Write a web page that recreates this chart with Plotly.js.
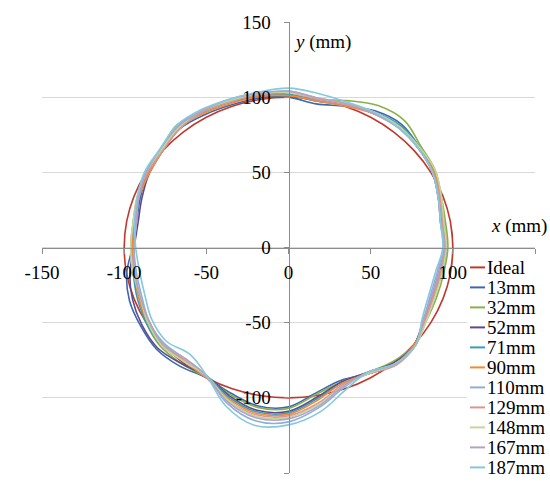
<!DOCTYPE html>
<html>
<head>
<meta charset="utf-8">
<script src="https://cdn.plot.ly/plotly-3.0.1.min.js"></script>
<style>body{margin:0;background:#fff}#chart{width:550px;height:482px}</style>
</head>
<body>
<div id="chart"></div>
<script>
// Polar angle (degrees) at which each radius (mm) was read
const angles = [0,10,20,30,40,50,60,70,80,90,100,110,120,130,140,150,160,170,180,190,200,210,220,230,240,250,260,270,280,290,300,310,320,330,340,350];

const rIdeal = [100,100,100,100,100,100,100,100,100,100,100,100,100,100,100,100,100,100,100,100,100,100,100,100,100,100,100,100,100,100,100,100,100,100,100,100];
const r13  = [96,95,97,102,104,107,105,100,97,100,101,101,102,103,100,99,96,94,95,100,103,104,105,103,100,103,107,106,98,94,97,101,100,96,94,94];
const r32  = [97,97,99,103,105,110,109,104,100,101,102,103,104,106,101,98,97,96,95,96,97,100,102,101,100,104,108,107,99,95,96,99,100,97,96,96];
const r52  = [95,94,97,101,103,105,104,101,99,101,102,103,104,104,100,98,95,93,94,98,101,103,104,101,99,105,110,109,101,95,96,100,100,95,93,93];
const r71  = [96,96,98,102,104,106,104,101,99,102,103,103,104,104,101,99,97,95,96,96,98,100,101,99,99,106,111,110,102,96,97,101,101,96,94,95];
const r90  = [96,96,98,102,103,105,103,100,99,101,102,102,103,104,100,98,97,95,95,95,97,99,100,99,100,107,112,111,103,96,97,101,100,96,94,94];
const r110 = [94,94,97,101,103,104,104,102,101,104,104,104,105,105,101,100,97,94,94,94,95,98,99,97,99,110,117,116,108,99,96,101,101,95,92,92];
const r129 = [95,95,98,101,103,104,103,101,100,103,103,103,104,103,100,99,98,96,96,95,96,98,100,98,100,108,113,112,105,97,97,102,101,96,94,94];
const r148 = [96,96,99,103,104,105,104,102,101,103,104,104,105,104,101,100,98,96,96,96,96,99,101,99,99,108,114,113,106,98,97,101,101,97,95,95];
const r167 = [95,94,97,101,103,104,103,102,101,104,104,105,105,105,102,100,97,94,94,95,96,98,100,97,99,109,115,114,107,98,96,101,101,95,93,93];
const r187 = [94,94,97,101,103,104,104,103,104,106,105,105,106,106,102,101,98,95,93,92,93,96,97,93,99,112,120,118,111,101,96,101,101,94,91,91];

const seriesNames = ['Ideal','13mm','32mm','52mm','71mm','90mm','110mm','129mm','148mm','167mm','187mm'];
const seriesRadii = [rIdeal, r13, r32, r52, r71, r90, r110, r129, r148, r167, r187];
const seriesColors = ['#C0392F','#3B68B0','#8AB04A','#5E4A8E','#3A9DB8','#F28A36','#8FAEDB','#D99694','#C3D69B','#B3A2C7','#86C8DC'];

const tickVals = [-150,-100,-50,0,50,100,150];
const xTickText = ['-150','-100','-50','0','50','100',''];   // 150 is hidden behind the legend
const yTickText = ['-150','-100','-50','0','50','100','150'];

// Each closed loop is traversed from the last reading round past the first one,
// so the smoothed line has no seam at the closing point.
const traces = seriesNames.map((name, i) => {
  const r = seriesRadii[i];
  const n = angles.length;
  const xs = [], ys = [];
  for (let k = -1; k <= n + 1; k++) {
    const j = ((k % n) + n) % n;
    const a = angles[j] * Math.PI / 180;
    xs.push(r[j] * Math.cos(a));
    ys.push(r[j] * Math.sin(a));
  }
  return {
    type: 'scatter', mode: 'lines', name: name, x: xs, y: ys,
    line: {color: seriesColors[i], width: 1.6, shape: 'spline', smoothing: 1, simplify: false},
    hoverinfo: 'skip', showlegend: false
  };
});

// Layout geometry (px) for the hand-placed legend
const W = 550, H = 482, M = {l: 42, r: 15, t: 22, b: 9};
const pw = W - M.l - M.r, ph = H - M.t - M.b;
const px2x = px => (px - M.l) / pw;
const py2y = py => (H - M.b - py) / ph;

const shapes = [
  {type: 'rect', xref: 'paper', yref: 'paper', layer: 'above',
   x0: px2x(467), x1: px2x(552), y0: py2y(484), y1: py2y(256),
   fillcolor: '#ffffff', line: {width: 0}}
];
const labelFont = {family: 'Liberation Serif', size: 19, color: '#000'};
const annotations = [
  {xref: 'paper', yref: 'paper', x: px2x(292), y: py2y(42), xanchor: 'left', yanchor: 'middle',
   text: '<i>y</i> (mm)', showarrow: false, font: labelFont},
  {xref: 'paper', yref: 'paper', x: px2x(549), y: py2y(226), xanchor: 'right', yanchor: 'middle',
   text: '<i>x</i> (mm)', showarrow: false, font: labelFont}
];
seriesNames.forEach((name, i) => {
  const cy = 267.4 + i * 20.0;
  shapes.push({type: 'line', xref: 'paper', yref: 'paper', layer: 'above',
    x0: px2x(470), x1: px2x(485), y0: py2y(cy), y1: py2y(cy),
    line: {color: seriesColors[i], width: 2}});
  annotations.push({xref: 'paper', yref: 'paper', x: px2x(485), y: py2y(cy),
    xanchor: 'left', yanchor: 'middle', text: name, showarrow: false, font: labelFont});
});

const layout = {
  width: W, height: H,
  margin: M,
  paper_bgcolor: '#fff', plot_bgcolor: '#fff',
  showlegend: false,
  hovermode: false,
  xaxis: {
    range: [-150, 150], anchor: 'free', position: 0.5,
    showline: true, linecolor: '#8C8C8C', linewidth: 1,
    ticks: 'outside', ticklen: 5, tickcolor: '#8C8C8C', tickwidth: 1,
    tickmode: 'array', tickvals: tickVals, ticktext: xTickText,
    tickfont: labelFont, showgrid: false, zeroline: false, fixedrange: true,
    ticklabelstandoff: 3
  },
  yaxis: {
    range: [-150, 150], anchor: 'free', position: 0.5,
    showline: true, linecolor: '#8C8C8C', linewidth: 1,
    ticks: 'outside', ticklen: 5, tickcolor: '#8C8C8C', tickwidth: 1,
    tickmode: 'array', tickvals: tickVals, ticktext: yTickText,
    tickfont: labelFont, showgrid: true, gridcolor: '#D9D9D9', gridwidth: 1,
    zeroline: false, fixedrange: true, ticklabelstandoff: 9
  },
  shapes: shapes,
  annotations: annotations
};

Plotly.newPlot('chart', traces, layout, {displayModeBar: false, staticPlot: true});
</script>
</body>
</html>
